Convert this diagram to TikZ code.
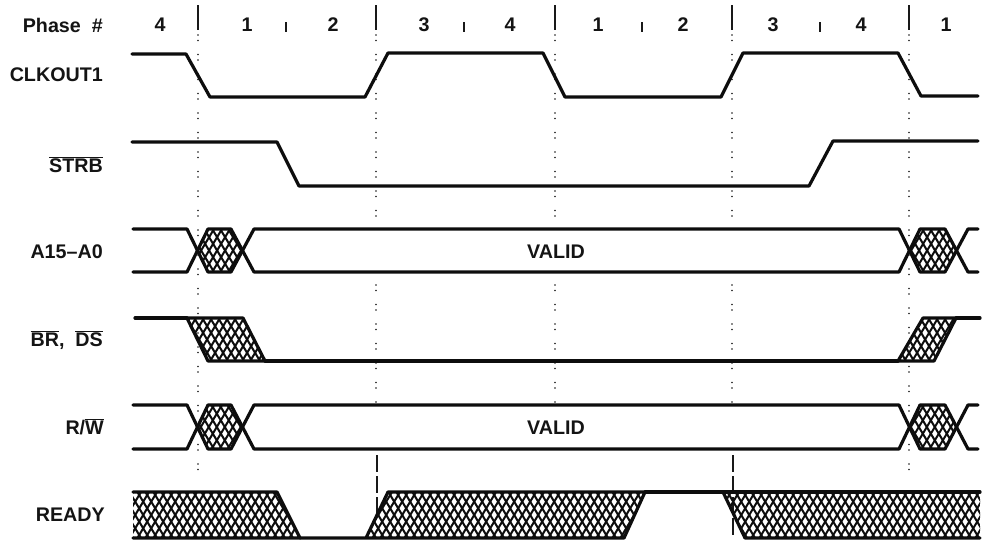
\documentclass[tikz,border=0pt]{standalone}
\usepackage{fontspec}
\setmainfont{Liberation Sans}
\newcommand{\ovl}[1]{$\overline{\hbox{#1}}$}
% \hatchonly{clip path}{ytop}{ybot}{xmin}{xmax}
\newcommand{\hatchonly}[5]{%
  \begin{scope}
    \clip #1;
    \pgfmathsetmacro{\hdx}{(#3-#2)*0.6}
    \pgfmathsetmacro{\hxs}{#4-\hdx-8}
    \pgfmathsetmacro{\hxn}{#4-\hdx}
    \foreach \hx in {\hxs,\hxn,...,#5}{
      \draw[hatchline] (\hx,#2) -- ++(\hdx,#3-#2);
      \draw[hatchline] (\hx+\hdx,#2) -- ++(-\hdx,#3-#2);
    }
  \end{scope}
}
\newcommand{\hatchregion}[5]{\hatchonly{#1}{#2}{#3}{#4}{#5}\draw[sig] #1;}
\tikzset{
  sig/.style={line width=3.2pt,line cap=round,line join=round,black!95},
  hatchline/.style={line width=2pt,black!95},
  dotline/.style={line width=1.9pt,line cap=round,black!90,dash pattern=on 0pt off 5.5pt on 0pt off 14pt},
  tick/.style={line width=1.6pt,black!90},
  dashline/.style={line width=1.6pt,black!90,dash pattern=on 17pt off 4pt on 17pt off 4pt},
  lab/.style={font=\fontsize{19.7}{21}\selectfont\bfseries,text=black!92,inner sep=0pt,anchor=east},
  num/.style={font=\fontsize{19.7}{21}\selectfont\bfseries,text=black!92,inner sep=0pt},
}
\begin{document}
\begin{tikzpicture}[x=1pt,y=-1pt]
\useasboundingbox[fill=white] (0,0) rectangle (982,542);
% phase boundaries
\foreach \x/\n in {198/a,376/b,555/c,732/d,909/e}{
  \draw[tick] (\x,5) -- (\x,30);
}
\foreach \x in {286,464,642,820}{
  \draw[tick] (\x,22) -- (\x,32);
}
\draw[dotline] (198,35) -- (198,482);
\draw[dotline] (909,35) -- (909,482);
\foreach \x in {376,555,732}{
  \draw[dotline] (\x,35) -- (\x,217);
  \draw[dotline] (\x,285) -- (\x,403);
}
\draw[dashline] (377,455) -- (377,515);
\draw[dashline] (733,455) -- (733,538);
% labels
\node[lab] (lphase) at (103,25) {Phase\ \ \#};
\node[lab] (lclk) at (103,75) {CLKOUT1};
\node[lab] (lstrb) at (103,165) {\ovl{STRB}};
\node[lab] (la) at (103,252) {A15--A0};
\node[lab] (lbr) at (103,340) {\ovl{BR},\ \ \ovl{DS}};
\node[lab] (lrw) at (104,427) {R/\ovl{W}};
\node[lab] (lready) at (105,515) {READY};
\foreach \x/\t/\n in {160/4/p1,247/1/p2,333/2/p3,424/3/p4,510/4/p5,598/1/p6,683/2/p7,773/3/p8,861/4/p9,946/1/p10}{
  \node[num] (\n) at (\x,25) {\t};
}
\node[num] (v1) at (556,252) {VALID};
\node[num] (v2) at (556,428) {VALID};
% CLKOUT1
\draw[sig] (132,54) -- (186,54) -- (210,97) -- (365,97) -- (388,53) -- (543,53) -- (565,97) -- (721,97) -- (743,53) -- (898,53) -- (921,96) -- (978,96);
% STRB
\draw[sig] (132,142) -- (277,142) -- (299,186) -- (809,186) -- (833,141) -- (978,141);
% A15-A0 and R/W
\foreach \yt/\yb in {229/272,405/449}{
  \pgfmathsetmacro{\ym}{(\yt+\yb)/2}
  \hatchonly{(198,\ym) -- (208,\yt) -- (231,\yt) -- (242,\ym) -- (231,\yb) -- (208,\yb) -- cycle}{\yt}{\yb}{190}{250}
  \hatchonly{(909,\ym) -- (920,\yt) -- (945,\yt) -- (957,\ym) -- (945,\yb) -- (920,\yb) -- cycle}{\yt}{\yb}{900}{965}
  \draw[sig] (133,\yt) -- (187,\yt) -- (208,\yb) -- (231,\yb) -- (254,\yt) -- (899,\yt) -- (920,\yb) -- (945,\yb) -- (968,\yt) -- (978,\yt);
  \draw[sig] (133,\yb) -- (187,\yb) -- (208,\yt) -- (231,\yt) -- (254,\yb) -- (899,\yb) -- (920,\yt) -- (945,\yt) -- (968,\yb) -- (978,\yb);
}
% BR, DS
\hatchregion{(187,318) -- (243,318) -- (265,361) -- (208,361) -- cycle}{318}{361}{180}{270}
\hatchregion{(898,361) -- (923,318) -- (956,318) -- (934,361) -- cycle}{318}{361}{890}{960}
\draw[sig] (135,318) -- (187,318);
\draw[sig] (265,361) -- (898,361);
\draw[sig] (956,318) -- (980,318);
% READY
\hatchonly{(133,492) -- (277,492) -- (300,538) -- (133,538) -- cycle}{492}{538}{125}{305}
\hatchonly{(388,492) -- (645,492) -- (624,538) -- (366,538) -- cycle}{492}{538}{360}{650}
\hatchonly{(723,492) -- (980,492) -- (980,538) -- (745,538) -- cycle}{492}{538}{715}{985}
\draw[sig] (133,492) -- (277,492) -- (300,538) -- (133,538);
\draw[sig] (300,538) -- (366,538) -- (388,492) -- (645,492) -- (624,538) -- (366,538);
\draw[sig] (645,492) -- (980,492);
\draw[sig] (723,492) -- (745,538) -- (980,538);
\end{tikzpicture}
\end{document}
